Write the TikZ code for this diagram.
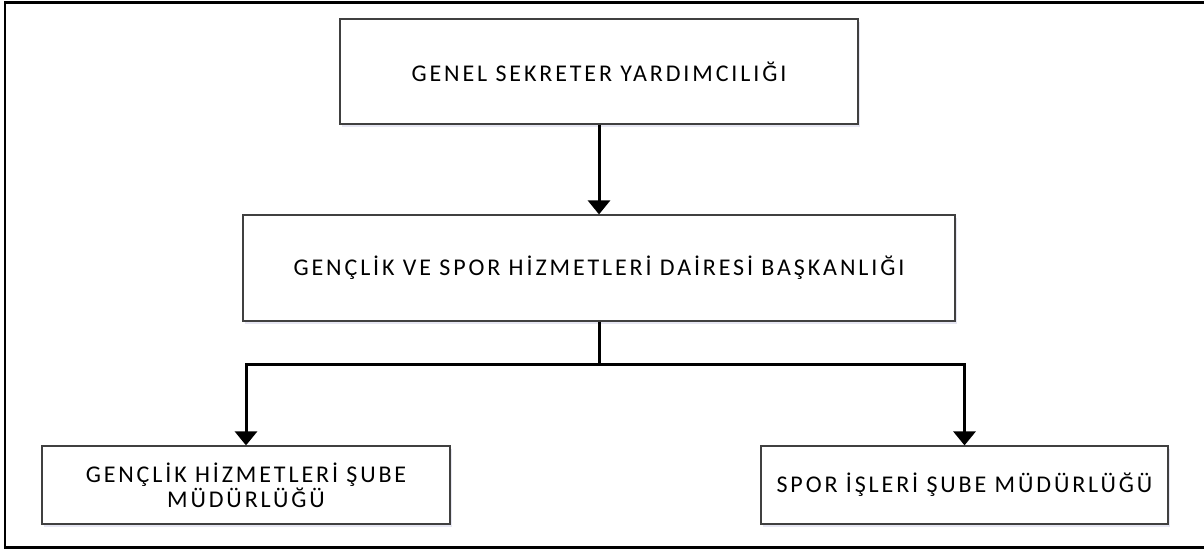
\documentclass[tikz,border=0pt]{standalone}
\usepackage{fontspec}
\setmainfont{Carlito}[LetterSpace=12]
\usepackage{tikz}
\usetikzlibrary{arrows.meta,shadows}

\begin{document}
\begin{tikzpicture}[x=1pt, y=-1pt,
    box/.style = {draw=black!75, line width=1.2pt, fill=white, align=center,
        font=\fontsize{24}{21}\selectfont,
        drop shadow={shadow xshift=2pt, shadow yshift=-3pt, fill=blue!30!gray, opacity=0.15}},
    conn/.style = {line width=3pt, -{Triangle[width=22pt, length=14pt]}}]
        \useasboundingbox (0,0) rectangle (1204,550);
        \draw[line width=2.5pt] (5,2.5) rectangle (1212,547.5);
        \node[box, minimum width=518pt, minimum height=105pt] (gsy) at (599,71.5) {GENEL SEKRETER YARDIMCILIĞI};
        \node[box, minimum width=712pt, minimum height=106pt] (gsh) at (599,268) {GENÇLİK VE SPOR HİZMETLERİ DAİRESİ BAŞKANLIĞI};
        \node[box, minimum width=408pt, minimum height=78pt] (genc) at (246,485) {GENÇLİK HİZMETLERİ ŞUBE\\MÜDÜRLÜĞÜ};
        \node[box, minimum width=407pt, minimum height=78pt] (spor) at (964.5,485) {SPOR İŞLERİ ŞUBE MÜDÜRLÜĞÜ};
        \coordinate (split) at (599,364);
        \draw[conn] (gsy) -- (gsh);
        \draw[line width=3pt] (gsh) -- (split);
        \draw[conn] (split) -| (genc);
        \draw[conn] (split) -| (spor);
    \end{tikzpicture}
\end{document}
